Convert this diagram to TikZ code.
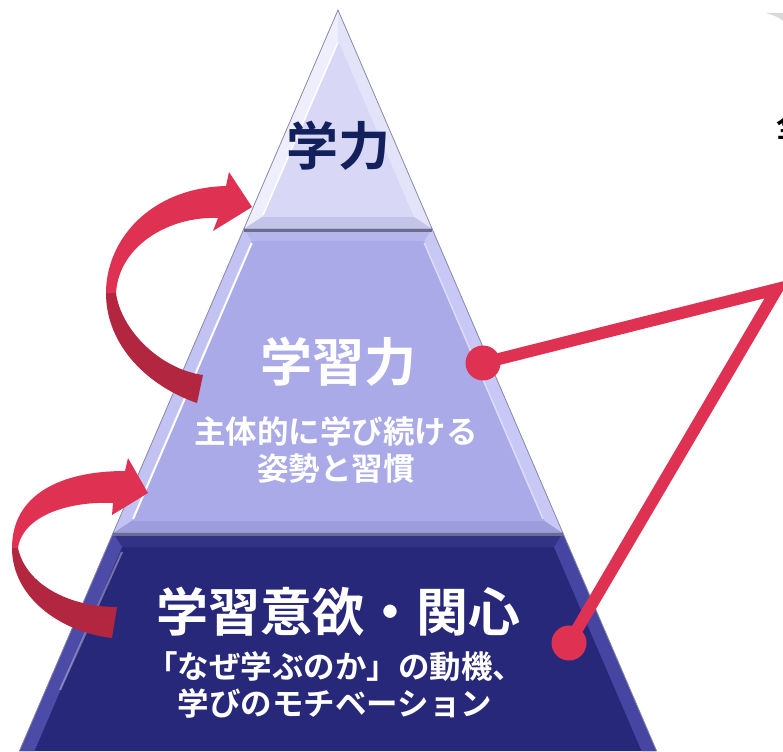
\documentclass[tikz,border=0pt]{standalone}
\usepackage{fontspec}
\newfontfamily\jp{Noto Sans CJK JP}[BoldFont={Noto Sans CJK JP Bold}]
\definecolor{topin}{HTML}{D8D8F6}
\definecolor{topleft}{HTML}{EEEEFD}
\definecolor{topright}{HTML}{E3E3F9}
\definecolor{topbot}{HTML}{C4C4EA}
\definecolor{midin}{HTML}{AAAAE8}
\definecolor{midleft}{HTML}{C2C2F3}
\definecolor{midright}{HTML}{C8C8F7}
\definecolor{midtop}{HTML}{B6B6EC}
\definecolor{midbot}{HTML}{9D9DDD}
\definecolor{botin}{HTML}{28287A}
\definecolor{botleft}{HTML}{4C4CA8}
\definecolor{botright}{HTML}{4646A2}
\definecolor{bottop}{HTML}{323286}
\definecolor{edgegray}{HTML}{8A8AA8}
\definecolor{shadowc}{HTML}{6C6C92}
\definecolor{redA}{HTML}{DF3253}
\definecolor{redB}{HTML}{B3263F}
\definecolor{navytext}{HTML}{12205C}
\begin{document}
\begin{tikzpicture}[x=1pt,y=-1pt,
  outline/.style={draw=edgegray, line width=0.8pt},
  bigtext/.style={font=\jp\bfseries\fontsize{52}{60}\selectfont, inner sep=0pt},
  subtext/.style={font=\jp\bfseries\fontsize{31.5}{37}\selectfont, align=center, inner sep=0pt, text=white},
  reddot/.style={circle, fill=redA, minimum size=35pt, inner sep=0pt},
  link/.style={draw=redA, line width=12pt, line join=miter}]
\useasboundingbox (0,0) rectangle (783,751);
\fill[white] (0,0) rectangle (783,751);

% ---- bottom tier ----
\fill[botin] (113.1,533) -- (562.9,533) -- (656.6,751) -- (19.4,751) -- cycle;
\fill[bottop] (113.1,533) -- (562.9,533) -- (554,547) -- (122,547) -- cycle;
\fill[botleft] (113.1,533) -- (122,547) -- (34.4,751) -- (19.4,751) -- cycle;
\fill[botright] (562.9,533) -- (554,547) -- (641.6,751) -- (656.6,751) -- cycle;
\draw[white, opacity=0.35, line width=2pt] (122,552) -- (60,690);
\draw[outline] (113.1,533) -- (562.9,533) -- (656.6,751) (19.4,751) -- (113.1,533);

% ---- middle tier ----
\fill[midin] (243.8,229) -- (432.2,229) -- (562.9,533) -- (113.1,533) -- cycle;
\fill[midtop] (243.8,229) -- (432.2,229) -- (424.3,241) -- (251.7,241) -- cycle;
\fill[midbot] (113.1,533) -- (562.9,533) -- (544.7,521) -- (131.3,521) -- cycle;
\fill[midleft] (243.8,229) -- (251.7,241) -- (131.3,521) -- (113.1,533) -- cycle;
\fill[midright] (432.2,229) -- (424.3,241) -- (544.7,521) -- (562.9,533) -- cycle;
\draw[white, line width=2pt] (251.7,243) -- (133,519);
\draw[white, opacity=0.6, line width=1.5pt] (424.3,243) -- (543,519);
\draw[outline] (243.8,229) -- (432.2,229) -- (562.9,533) -- (113.1,533) -- cycle;

% ---- top tier ----
\fill[topin] (338,10) -- (432.2,229) -- (243.8,229) -- cycle;
\fill[topleft] (338,10) -- (338,40) -- (262,217) -- (243.8,229) -- cycle;
\fill[topright] (338,10) -- (338,40) -- (414,217) -- (432.2,229) -- cycle;
\fill[topbot] (243.8,229) -- (262,217) -- (414,217) -- (432.2,229) -- cycle;
\draw[white, line width=1.5pt] (338,42) -- (263,215);
\draw[outline] (338,10) -- (432.2,229) -- (243.8,229) -- cycle;

% shadows between tiers
\draw[shadowc, line width=2.5pt] (243.8,230.5) -- (432.2,230.5);
\draw[shadowc, line width=2.5pt] (113.1,534.5) -- (562.9,534.5);

% ---- texts ----
\node[bigtext, text=navytext] (t1) at (338,146) {学力};
\node[bigtext, text=white] (t2) at (338,362) {学習力};
\node[subtext] (t2s) at (336,450) {主体的に学び続ける\\姿勢と習慣};
\node[bigtext, text=white] (t3) at (338,612) {学習意欲・関心};
\node[subtext] (t3s) at (335,685) {「なぜ学ぶのか」の動機、\\学びのモチベーション};

% partial text at the right edge (cut off in the reference too)
\node[font=\jp\bfseries\fontsize{30}{36}\selectfont, anchor=west, inner sep=0pt] (cut) at (776,126) {全};
% grey shape at the top right corner
\fill[gray!30] (766,13) -- (783,13) -- (783,21) .. controls (778,17) .. (766,13) -- cycle;

% ---- curved arrows ----
% upper arrow
\fill[redA] (106,293) .. controls (106,240) and (150,188) .. (226,186)
  -- (229,172) -- (252,207) -- (213,231) -- (218,218)
  .. controls (170,216) and (119,245) .. (116,293) -- cycle;
\fill[redB] (106,293) .. controls (106,347) and (150,387) .. (197,403)
  -- (203,375) .. controls (160,369) and (121,330) .. (116,293) -- cycle;
% lower arrow
\fill[redA] (12,548) .. controls (12,495) and (60,471) .. (125,471)
  -- (128,458) -- (148,493) -- (112,515) -- (113,503)
  .. controls (70,501) and (23,515) .. (18,548) -- cycle;
\fill[redB] (12,548) .. controls (12,597) and (60,632) .. (112,638)
  -- (117,607) .. controls (70,607) and (26,585) .. (18,548) -- cycle;

% ---- red connectors ----
\coordinate (p1) at (483,363);
\coordinate (p2) at (569,643);
\coordinate (corner) at (777,289);
\draw[link] (p1) -- (corner) -- (p2);
\node[reddot] (d1) at (p1) {};
\node[reddot] (d2) at (p2) {};
\end{tikzpicture}
\end{document}
